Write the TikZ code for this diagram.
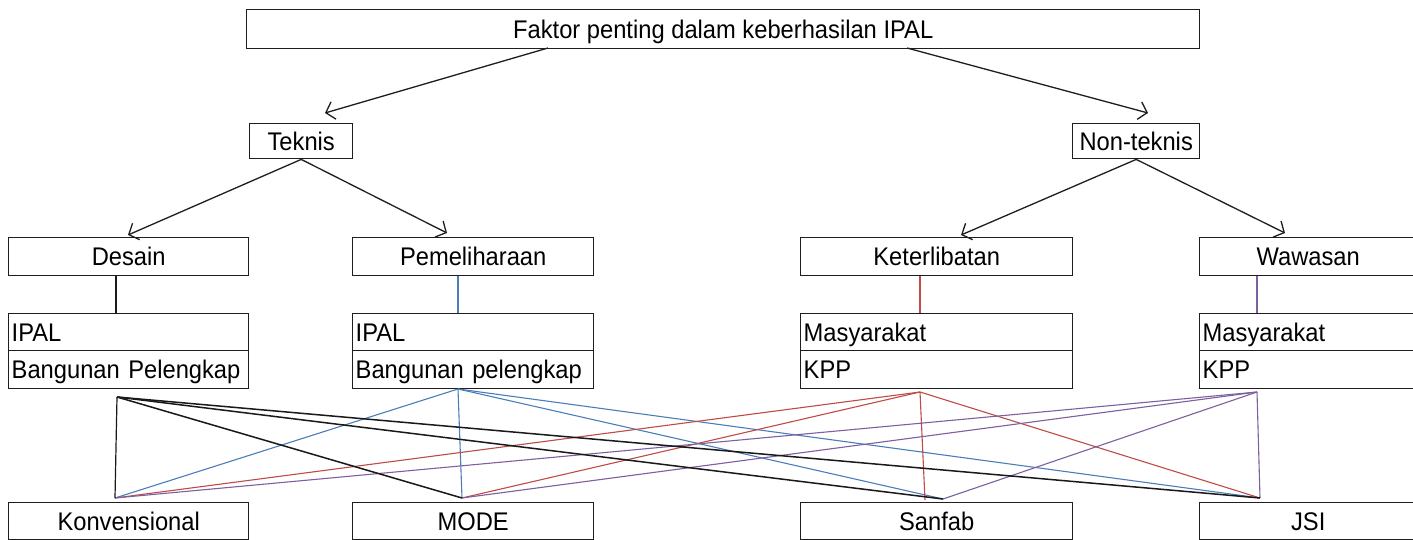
\documentclass[tikz,border=0pt]{standalone}
\usepackage{fontspec}
\setmainfont{Liberation Sans}[FakeStretch=0.93]
\usetikzlibrary{arrows.meta}
\definecolor{lblue}{HTML}{4A7EBB}
\definecolor{lred}{HTML}{BE4B48}
\definecolor{lpurp}{HTML}{7D60A0}
\definecolor{edge}{HTML}{1E1E1E}
\begin{document}
\begin{tikzpicture}[x=1pt,y=-1pt,
  box/.style={draw=edge, line width=1.4pt, anchor=north west, inner sep=0pt,
    font=\fontsize{25.5}{28}\selectfont, text height=20pt, text depth=2pt},
  cell/.style={box, inner xsep=3pt, align=left},
  arr/.style={draw=edge, line width=1.3pt, -{Straight Barb[length=8pt,width=18pt,line width=1.3pt]}},
  blk/.style={draw=black!90, line width=1.5pt},
  blu/.style={draw=lblue, line width=1.1pt},
  red/.style={draw=lred, line width=1.1pt},
  pur/.style={draw=lpurp, line width=1.1pt}]
\useasboundingbox[fill=white] (0,0) rectangle (1413,540);

% top levels
\node[box, minimum width=953pt, minimum height=39pt] (top) at (246,9) {Faktor penting dalam keberhasilan IPAL};
\node[box, minimum width=103pt, minimum height=35pt] (teknis) at (249,123) {Teknis};
\node[box, minimum width=127pt, minimum height=35pt] (nonteknis) at (1072,123) {Non-teknis};

% third row
\node[box, minimum width=240pt, minimum height=38pt] (desain) at (8,237) {Desain};
\node[box, minimum width=241pt, minimum height=38pt] (pemel) at (352,237) {Pemeliharaan};
\node[box, minimum width=272pt, minimum height=38pt] (keter) at (800,237) {Keterlibatan};
\node[box, minimum width=217pt, minimum height=38pt] (wawas) at (1199,237) {Wawasan};

% two-cell boxes
\node[cell, text width=234pt, minimum height=37pt] (a1) at (8,313) {IPAL};
\node[cell, text width=234pt, minimum height=38pt] (b1) at (8,350) {Bangunan Pelengkap};
\node[cell, text width=235pt, minimum height=37pt] (a2) at (352,313) {IPAL};
\node[cell, text width=235pt, minimum height=38pt] (b2) at (352,350) {Bangunan pelengkap};
\node[cell, text width=266pt, minimum height=37pt] (a3) at (800,313) {Masyarakat};
\node[cell, text width=266pt, minimum height=38pt] (b3) at (800,350) {KPP};
\node[cell, text width=211pt, minimum height=37pt] (a4) at (1199,313) {Masyarakat};
\node[cell, text width=211pt, minimum height=38pt] (b4) at (1199,350) {KPP};

% bottom row
\node[box, minimum width=240pt, minimum height=37pt] (konv) at (8,502) {Konvensional};
\node[box, minimum width=241pt, minimum height=37pt] (mode) at (352,502) {MODE};
\node[box, minimum width=272pt, minimum height=37pt] (sanfab) at (800,502) {Sanfab};
\node[box, minimum width=217pt, minimum height=37pt] (jsi) at (1199,502) {JSI};

% attachment points
\coordinate (ts1) at (548,48);  \coordinate (tt1) at (325,113);
\coordinate (ts2) at (907,48);  \coordinate (tt2) at (1148,113);
\coordinate (dt) at (128,235);  \coordinate (pt) at (447,233);
\coordinate (kt) at (961,235);  \coordinate (wt) at (1285,233);
\coordinate (v1) at (116,0); \coordinate (v2) at (458,0);
\coordinate (v3) at (920,0); \coordinate (v4) at (1257,0);
\coordinate (o1) at (117,397); \coordinate (o2) at (458,389);
\coordinate (o3) at (920,392); \coordinate (o4) at (1257,392);
\coordinate (e1) at (115,498); \coordinate (e2) at (462,498);
\coordinate (e3) at (943,499); \coordinate (e3r) at (925,500);
\coordinate (e4) at (1260,498);

% arrows
\draw[arr] (ts1) -- (tt1);
\draw[arr] (ts2) -- (tt2);
\draw[arr] (teknis.south) -- (dt);
\draw[arr] (teknis.south) -- (pt);
\draw[arr] (nonteknis.south) -- (kt);
\draw[arr] (nonteknis.south) -- (wt);

% vertical connectors
\draw[blk, line width=1.2pt] (desain.south -| v1) -- (a1.north -| v1);
\draw[blu] (pemel.south -| v2) -- (a2.north -| v2);
\draw[red] (keter.south -| v3) -- (a3.north -| v3);
\draw[pur] (wawas.south -| v4) -- (a4.north -| v4);

% cross connections
\draw[blu] (o2) -- (e1);
\draw[blu] (o2) -- (e2);
\draw[blu] (o2) -- (e3);
\draw[blu] (o2) -- (e4);
\draw[red] (o3) -- (e1);
\draw[red] (o3) -- (e2);
\draw[red] (o3) -- (e3r);
\draw[red] (o3) -- (e4);
\draw[pur] (o4) -- (e1);
\draw[pur] (o4) -- (e2);
\draw[pur] (o4) -- (e3);
\draw[pur] (o4) -- (e4);
\draw[blk, line width=1.2pt] (o1) -- (e1);
\draw[blk] (o1) -- (e2);
\draw[blk] (o1) -- (e3);
\draw[blk] (o1) -- (e4);
\end{tikzpicture}
\end{document}
